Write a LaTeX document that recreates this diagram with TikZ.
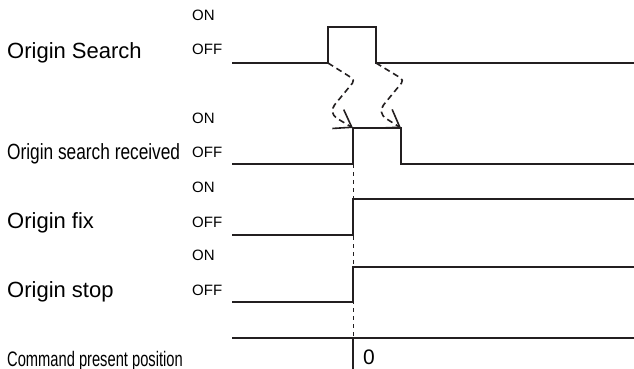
\documentclass[tikz,border=0pt]{standalone}
\usepackage{fontspec}
\setmainfont{Liberation Sans}
\usetikzlibrary{arrows.meta}

\begin{document}
\begin{tikzpicture}[x=1pt, y=-1pt,
    signal/.style={draw=lineColour, line width=1.6pt},
    handshake/.style={draw=lineColour, line width=1.6pt, dash pattern=on 6pt off 4pt,
        rounded corners=4pt, -{Straight Barb[length=16pt, width=22pt, line width=1.6pt]}},
    bigLabel/.style={font=\fontsize{22}{24}\selectfont, anchor=base west, inner sep=0pt},
    levelLabel/.style={font=\fontsize{15}{17}\selectfont, anchor=base west, inner sep=0pt}]
    \def\leftEdge{232}
    \def\rightEdge{634}
    \def\switchX{353}

    \definecolor{lineColour}{HTML}{231F20}

    \useasboundingbox (0,0) rectangle (634,369);

    % Signal names
    \node[bigLabel] (searchName) at (7,59) {Origin Search};
    \node[bigLabel, xscale=0.786] (receivedName) at (7,159) {Origin search received};
    \node[bigLabel] (fixName) at (7,228) {Origin fix};
    \node[bigLabel] (stopName) at (7,297) {Origin stop};
    \node[bigLabel, font=\fontsize{21}{23}\selectfont, xscale=0.70] (positionName) at (7,366) {Command present position};

    % ON / OFF levels
    \foreach \name/\onY/\offY in {search/21/55, received/123/157, fix/192/227, stop/260/295}{
        \node[levelLabel] (on-\name) at (192,\onY) {ON};
        \node[levelLabel] (off-\name) at (192,\offY) {OFF};
    }

    % Origin Search
    \coordinate (searchRise) at (328,63);
    \coordinate (searchFall) at (376,63);
    \draw[signal] (\leftEdge,63) -- (searchRise) -- (328,27) -- (376,27) -- (searchFall) -- (\rightEdge,63);

    % Origin search received
    \coordinate (receivedRise) at (\switchX,128);
    \coordinate (receivedFall) at (401,128);
    \draw[signal] (\leftEdge,164) -- (\switchX,164) -- (receivedRise) -- (receivedFall) -- (401,164) -- (\rightEdge,164);

    % Origin fix and origin stop
    \draw[signal] (\leftEdge,235) -- (\switchX,235) -- (\switchX,199) -- (\rightEdge,199);
    \draw[signal] (\leftEdge,302) -- (\switchX,302) -- (\switchX,267) -- (\rightEdge,267);

    % Command present position
    \draw[signal] (\leftEdge,338) -- (\rightEdge,338);
    \draw[signal] (\switchX,338) -- (\switchX,369);
    \node[bigLabel, font=\fontsize{21}{23}\selectfont] (zeroLabel) at (363,364) {0};

    % Switch instant
    \draw[lineColour, line width=0.7pt, dash pattern=on 4pt off 4pt] (\switchX,164) -- (\switchX,338);

    % Request and answer
    \draw[handshake] (searchRise) -- (355,80) -- (332,108) -- (333,116) -- (receivedRise);
    \draw[handshake] (searchFall) -- (404,80) -- (381,108) -- (382,116) -- (receivedFall);
\end{tikzpicture}
\end{document}
